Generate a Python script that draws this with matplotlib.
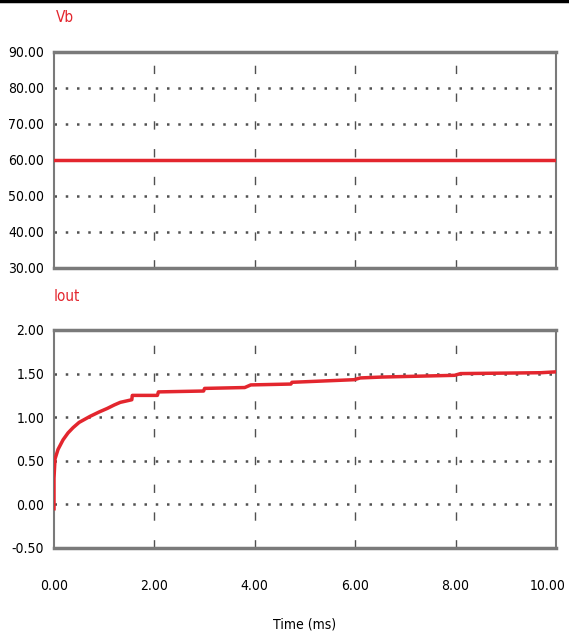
import matplotlib
matplotlib.use('Agg')
import matplotlib.pyplot as plt
import matplotlib.transforms as mtransforms
from matplotlib.lines import Line2D

plt.rcParams['font.family'] = ['DejaVu Sans']
plt.rcParams['font.stretch'] = 'condensed'

# data
time_ms = [0.0, 0.0, 0.02, 0.08, 0.18, 0.28, 0.38, 0.5, 0.72, 0.9, 1.06, 1.2, 1.32, 1.55, 1.56,
           2.06, 2.08, 2.98, 3.0, 3.8, 3.92, 4.72, 4.74, 5.98, 6.1, 6.52, 7.98, 8.1, 9.7, 10.0]
iout = [-0.05, 0.3, 0.52, 0.63, 0.74, 0.82, 0.88, 0.94, 1.01, 1.06, 1.10, 1.14, 1.17, 1.20, 1.25,
        1.25, 1.29, 1.30, 1.33, 1.34, 1.37, 1.38, 1.40, 1.43, 1.45, 1.46, 1.48, 1.50, 1.51, 1.52]
vb_time = [0.0, 10.0]
vb = [60.0, 60.0]

vb_ticks = [30, 40, 50, 60, 70, 80, 90]
vb_grid = [40, 50, 60, 70, 80]
iout_ticks = [-0.5, 0.0, 0.5, 1.0, 1.5, 2.0]
iout_grid = [0.0, 0.5, 1.0, 1.5]
x_ticks = [0, 2, 4, 6, 8, 10]
x_grid = [2, 4, 6, 8]

red = '#e3262e'
grid_col = '#505050'
frame_col = '#7a7a7a'

fig = plt.figure(figsize=(5.69, 6.44), dpi=100)
fig.add_artist(Line2D([0, 1], [0.9985, 0.9985], color='black', lw=2.5, transform=fig.transFigure))

ax1 = fig.add_axes([0.0949, 0.5839, 0.8822, 0.3354])
ax2 = fig.add_axes([0.0949, 0.1491, 0.8822, 0.3385])


def style(ax, ticks, grid_y, lo, hi):
    ax.set_xlim(0, 10)
    ax.set_ylim(lo, hi)
    ax.set_yticks(ticks)
    ax.set_yticklabels(['%.2f' % t for t in ticks])
    ax.set_xticks(x_ticks)
    for g in grid_y:
        ax.axhline(g, color=grid_col, lw=1.8, ls=(0, (1, 3.5)), zorder=1)
    for g in x_grid:
        ax.axvline(g, color=grid_col, lw=1.0, ls=(0, (6, 14)), zorder=1)
    ax.tick_params(length=0, labelsize=10, pad=7)
    for s in ['top', 'bottom']:
        ax.spines[s].set_linewidth(2.5)
        ax.spines[s].set_color(frame_col)
    for s in ['left', 'right']:
        ax.spines[s].set_linewidth(1.5)
        ax.spines[s].set_color(frame_col)


style(ax1, vb_ticks, vb_grid, 30, 90)
style(ax2, iout_ticks, iout_grid, -0.5, 2.0)

ax1.plot(vb_time, vb, color=red, lw=2.5, zorder=3)
ax1.set_xticklabels([])

ax2.plot(time_ms, iout, color=red, lw=2.5, zorder=3)
ax2.set_xticklabels(['%.2f' % t for t in x_ticks])
ax2.tick_params(axis='x', pad=22)
ax2.set_xlabel('Time (ms)', fontsize=10, labelpad=18)

# last x label sits a bit left so it stays inside the picture
last = ax2.get_xticklabels()[-1]
last.set_transform(last.get_transform() + mtransforms.ScaledTranslation(-8 / 100, 0, fig.dpi_scale_trans))

fig.text(0.099, 1 - 18 / 644, 'Vb', color=red, fontsize=11, va='center')
fig.text(0.095, 1 - 297 / 644, 'Iout', color=red, fontsize=11, va='center')

fig.savefig('out.png', dpi=100)
